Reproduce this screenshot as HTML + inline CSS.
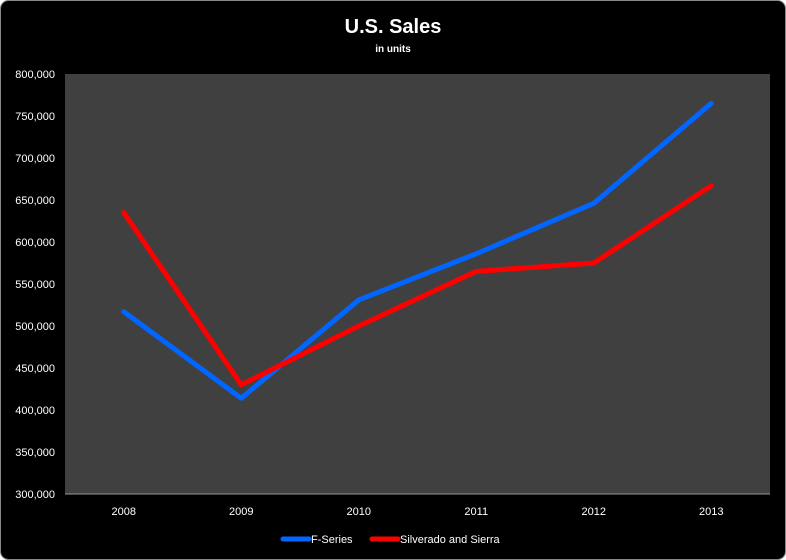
<!DOCTYPE html>
<html><head><meta charset="utf-8"><style>
html,body{margin:0;padding:0;background:#fff;}
svg{display:block;font-family:"Liberation Sans",sans-serif;}
</style></head><body>
<svg id="chart" width="786" height="560">
<rect x="0.5" y="0.5" width="785" height="559" rx="8" fill="#000" stroke="#888"/>
<text x="393" y="33" text-anchor="middle" fill="#fff" font-size="20" font-weight="bold">U.S. Sales</text>
<text x="393" y="52" text-anchor="middle" fill="#fff" font-size="10" font-weight="bold">in units</text>
<rect x="65" y="74" width="705" height="420" fill="#404040"/>
<line x1="65" y1="494" x2="770" y2="494" stroke="#999"/>
<g id="yt"></g><g id="xt"></g><g id="lines"></g>
<g>
<line x1="283" y1="539" x2="309" y2="539" stroke="#0066ff" stroke-width="5" stroke-linecap="round"/>
<text x="311" y="543" fill="#fff" font-size="11">F-Series</text>
<line x1="372" y1="539" x2="398" y2="539" stroke="#ff0000" stroke-width="5" stroke-linecap="round"/>
<text x="400" y="543" fill="#fff" font-size="11">Silverado and Sierra</text>
</g>
</svg>
<script>
const categories=["2008","2009","2010","2011","2012","2013"];
const fSeries=[517000,414000,531000,586000,646000,765000];
const silverado=[635000,430000,500000,565000,575000,667000];
const yTicks=[300000,350000,400000,450000,500000,550000,600000,650000,700000,750000,800000];
const NS="http://www.w3.org/2000/svg";
const x0=65,pw=705,y0=494,ph=420,ymin=300000,ymax=800000;
const xs=i=>x0+pw/categories.length*(i+0.5);
const ys=v=>y0-(v-ymin)/(ymax-ymin)*ph;
const yt=document.getElementById('yt'),xt=document.getElementById('xt'),lg=document.getElementById('lines');
yTicks.forEach(v=>{const t=document.createElementNS(NS,'text');
t.setAttribute('x',55);t.setAttribute('y',ys(v)+4);t.setAttribute('text-anchor','end');t.setAttribute('fill','#fff');t.setAttribute('font-size','11');
t.textContent=v.toLocaleString('en-US');


yt.appendChild(t);});
categories.forEach((c,i)=>{const t=document.createElementNS(NS,'text');
t.setAttribute('x',xs(i));t.setAttribute('y',515);t.setAttribute('text-anchor','middle');t.setAttribute('fill','#fff');t.setAttribute('font-size','11');
t.textContent=c;


xt.appendChild(t);});
function line(vals,color,name){const p=document.createElementNS(NS,'polyline');
p.setAttribute('points',vals.map((v,i)=>xs(i)+','+ys(v)).join(' '));
p.setAttribute('fill','none');p.setAttribute('stroke',color);p.setAttribute('stroke-width','5');p.setAttribute('stroke-linejoin','round');p.setAttribute('stroke-linecap','round');


lg.appendChild(p);}
line(fSeries,'#0066ff','f-series-line');
line(silverado,'#ff0000','silverado-sierra-line');
</script>
</body></html>
